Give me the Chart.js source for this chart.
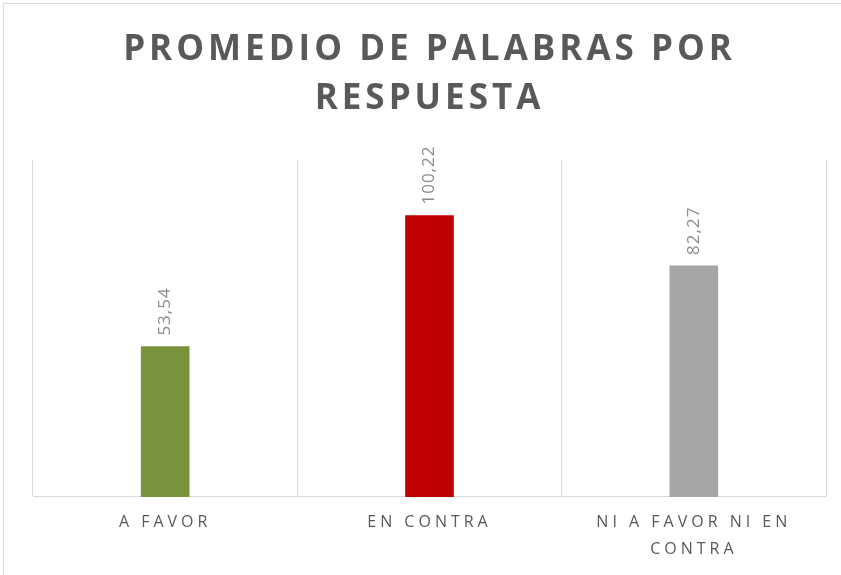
<!DOCTYPE html>
<html>
<head>
<meta charset="utf-8">
<script src="https://cdn.jsdelivr.net/npm/chart.js@4.4.1/dist/chart.umd.min.js"></script>
<style>
  body { margin: 0; background: #fff; }
  #wrap { position: absolute; left: 0; top: 0; width: 841px; height: 575px; }
  #frame { position: absolute; left: 3px; top: 3px; width: 900px; height: 700px;
           border-left: 1px solid #d9d9d9; border-top: 1px solid #d9d9d9; }
</style>
</head>
<body>
<div id="wrap">
  <div id="frame"></div>
  <canvas id="chart_palabras" width="841" height="575"></canvas>
</div>
<script>
// Promedio de palabras por respuesta

// datos del grafico
var categorias = [["A FAVOR"], ["EN CONTRA"], ["NI A FAVOR NI EN", "CONTRA"]];
var promedios = [53.54, 100.22, 82.27];
var colores = ["#77933c", "#c00000", "#a6a6a6"];
var titulo = ["PROMEDIO DE PALABRAS POR", "RESPUESTA"];

// etiquetas verticales encima de cada barra
var etiquetasVerticales = {
    id: "etiquetasVerticales",
    afterDatasetsDraw: function(chart) {
        var ctx = chart.ctx;
        var meta = chart.getDatasetMeta(0);
        ctx.save();
        ctx.letterSpacing = "1px";
        ctx.font = "17px 'Open Sans'";
        ctx.fillStyle = "#8c8c8c";
        ctx.textAlign = "left";
        ctx.textBaseline = "middle";
        meta.data.forEach(function(bar, i) {
            var txt = promedios[i].toFixed(2).replace(".", ",");
            ctx.save();
            ctx.translate(bar.x, bar.y - 11);
            ctx.rotate(-Math.PI / 2);
            ctx.fillText(txt, 0, 0);
            ctx.restore();
        });
        ctx.restore();
    }
};

// espaciado de letras como en el original (titulo y categorias)
var espaciado = {
    id: "espaciado",
    beforeDraw: function(chart) {
        chart.ctx.letterSpacing = "4px";
    }
};

var ctx = document.getElementById("chart_palabras").getContext("2d");
var grafico = new Chart(ctx, {
    type: "bar",
    data: {
        labels: categorias,
        datasets: [{
            data: promedios,
            backgroundColor: colores,
            borderWidth: 0,
            barThickness: 48
        }]
    },
    plugins: [espaciado, etiquetasVerticales],
    options: {
        responsive: false,
        animation: false,
        layout: { padding: { left: 33, right: 15, top: 20, bottom: 0 } },
        plugins: {
            legend: { display: false },
            tooltip: { enabled: false },
            title: {
                display: true,
                text: titulo,
                color: "#595959",
                font: { family: "'Open Sans'", size: 35, weight: "bold", lineHeight: 1.4 },
                padding: { top: 6, bottom: 36 }
            }
        },
        scales: {
            x: {
                offset: true,
                grid: { display: true, offset: true, color: "#d9d9d9", lineWidth: 1, drawTicks: false },
                border: { display: true, color: "#d9d9d9", width: 1 },
                ticks: {
                    color: "#595959",
                    padding: 12,
                    maxRotation: 0,
                    font: { family: "'Open Sans'", size: 16, lineHeight: 1.69 }
                }
            },
            y: {
                display: false,
                min: 0,
                max: 120
            }
        }
    }
});
</script>
</body>
</html>
